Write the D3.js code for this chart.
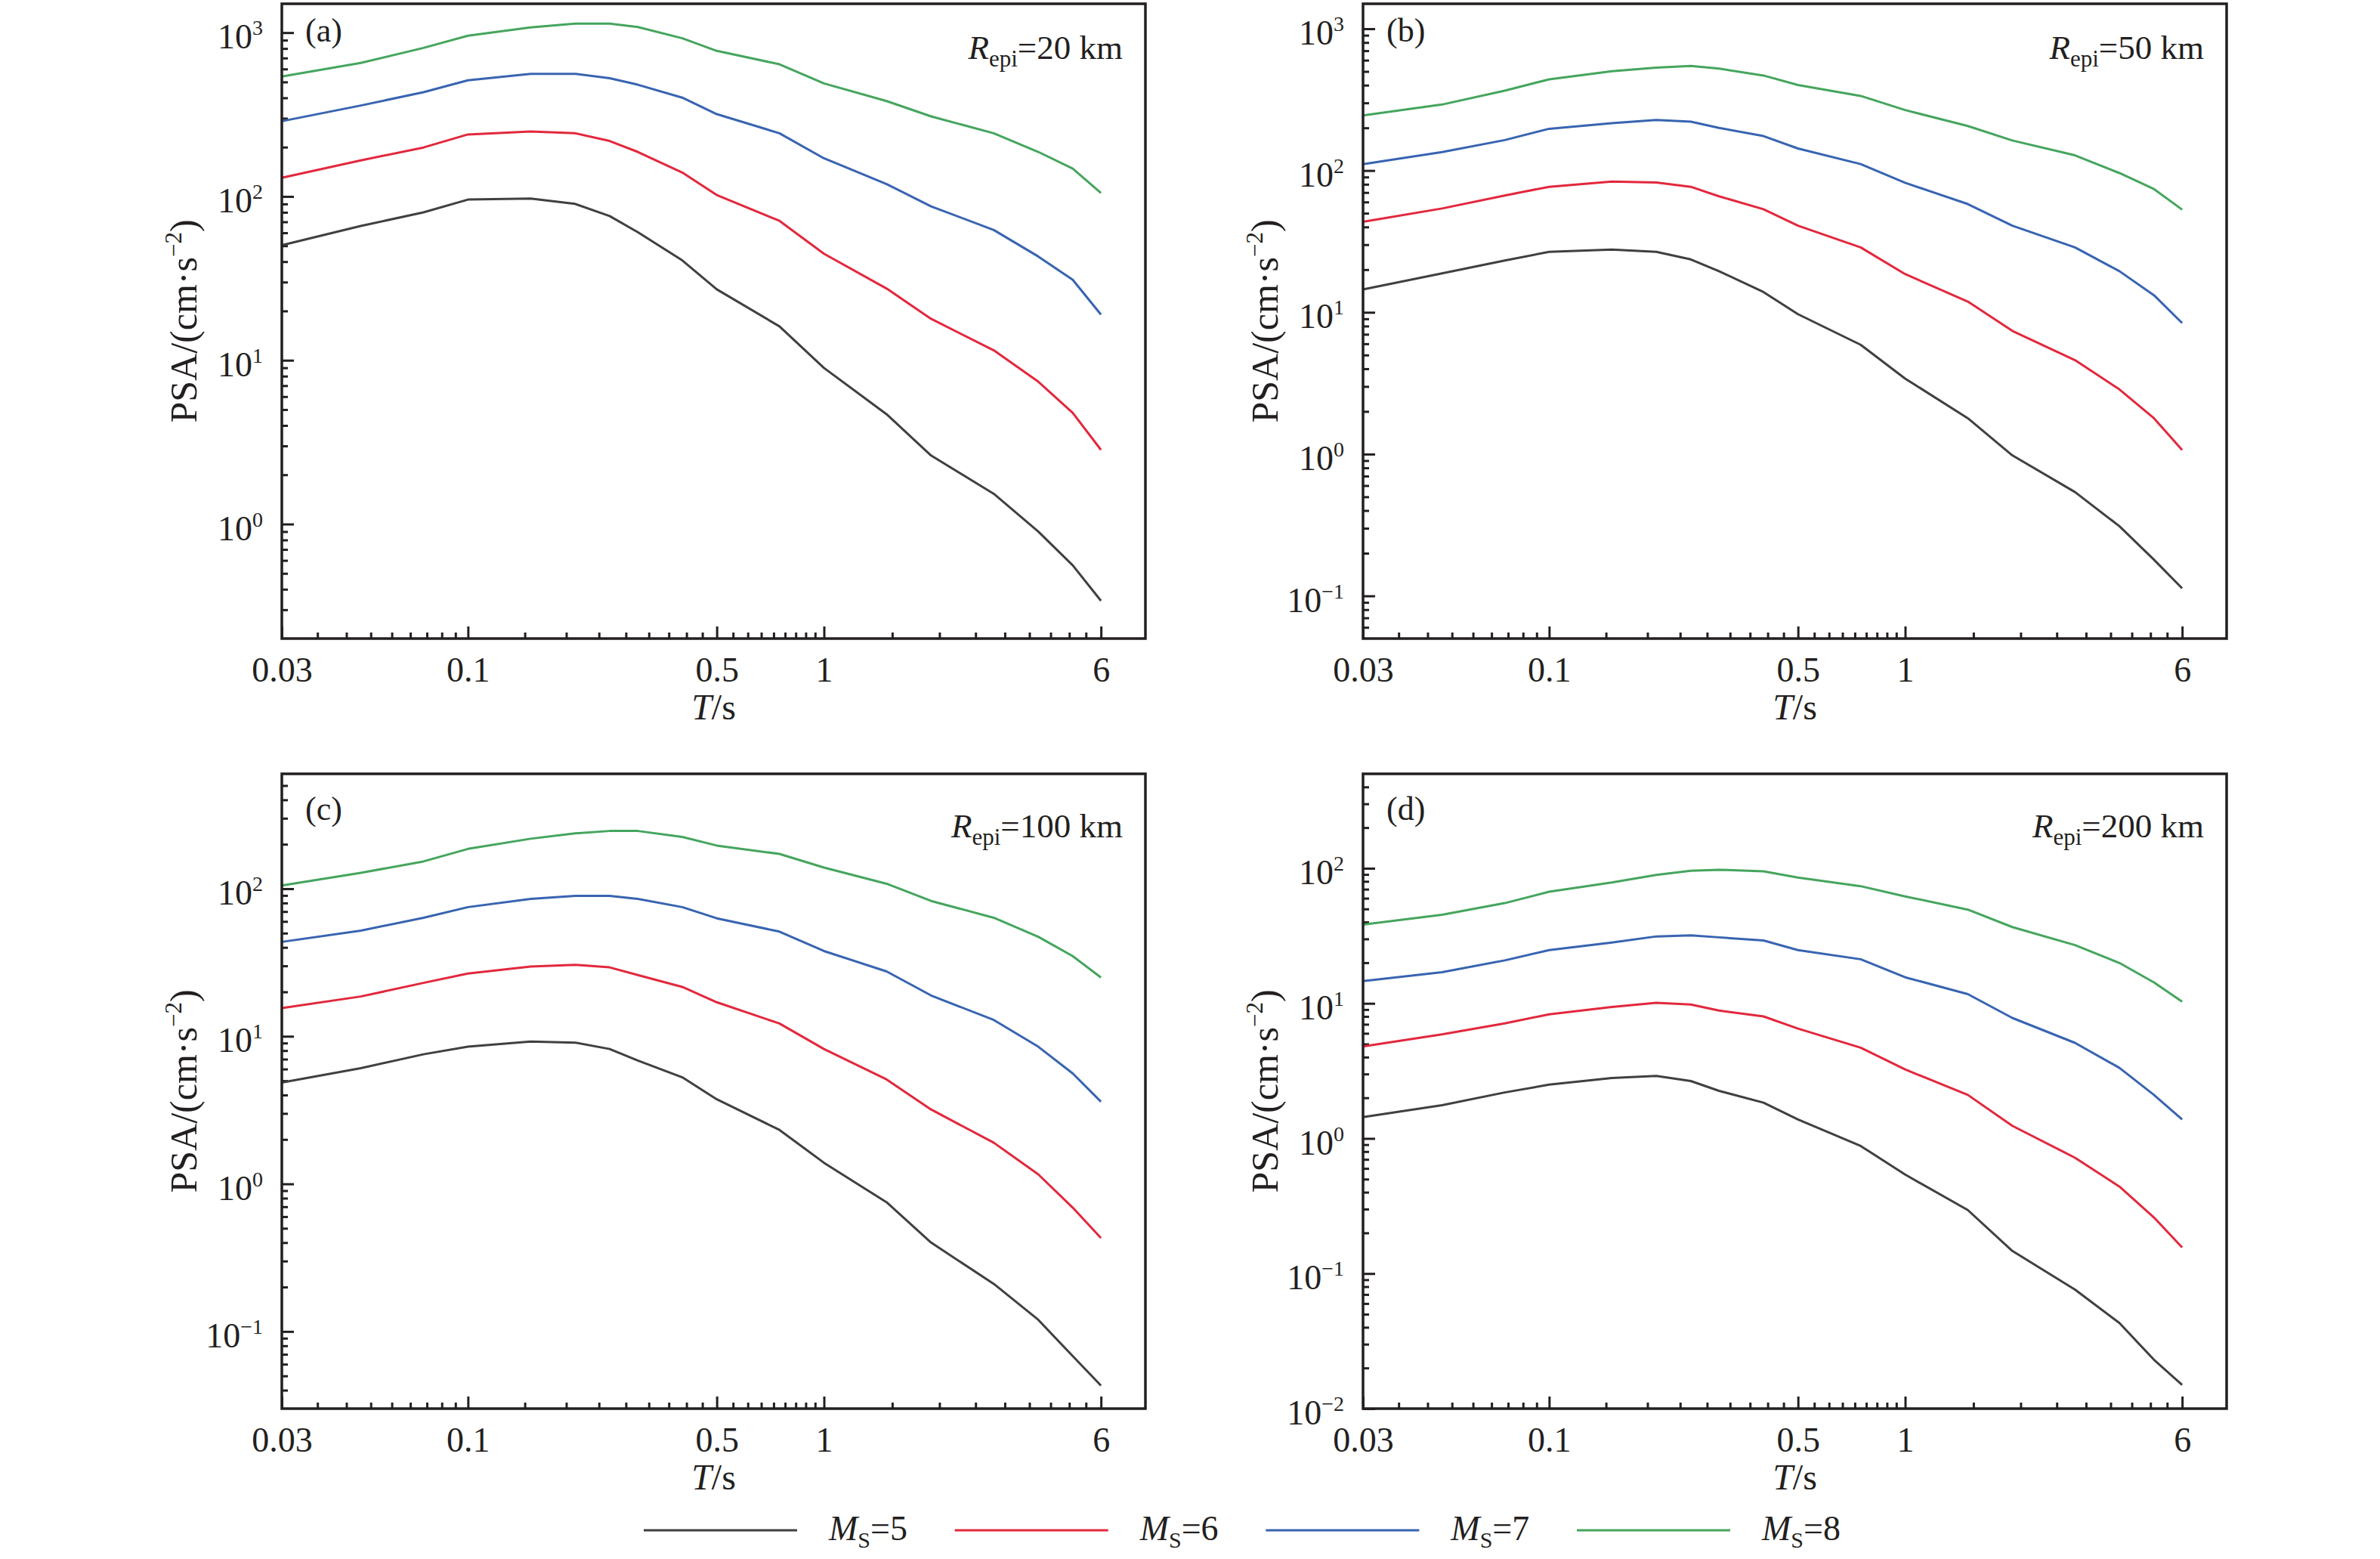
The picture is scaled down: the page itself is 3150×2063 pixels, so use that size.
<!DOCTYPE html>
<meta charset="utf-8">
<script src="https://d3js.org/d3.v7.min.js"></script>
<style>
  body { margin: 0; background: #fff; }
  svg text { font-family: "Times New Roman", "Liberation Serif", serif !important; fill: #231f20; }
</style>

<div id="my_dataviz"></div>
<script>

  // periods (s) shared by every curve
  var periods = [0.03, 0.05, 0.075, 0.1, 0.15, 0.2, 0.25, 0.3, 0.4, 0.5, 0.75, 1, 1.5, 2, 3, 4, 5, 6];

  var magnitudes = [5, 6, 7, 8];
  var distances = [20, 50, 100, 200];
  var panelNames = ["(a)", "(b)", "(c)", "(d)"];
  var xTickValues = [0.03, 0.1, 0.5, 1, 6];
  var xTickLabels = ["0.03", "0.1", "0.5", "1", "6"];
  var yRanges = [[0.2, 1500], [0.05, 1500], [0.03, 600], [0.01, 500]];
  var lineColors = ["#404040", "#e2283d", "#3864b1", "#45a55e"];

  // PSA (cm/s^2), Repi = 20 km
  var psa20_m5 = [50.4, 66, 80, 95.7, 97, 90, 75.9, 60.5, 40.7, 27.1, 16.1, 8.98, 4.68, 2.62, 1.53, 0.9, 0.56, 0.34];
  var psa20_m6 = [130, 166, 199, 239, 249, 243, 218, 187, 140, 102, 71, 44.7, 27.4, 17.9, 11.5, 7.4, 4.77, 2.84];
  var psa20_m7 = [288, 359, 433, 512, 560, 560, 527, 481, 401, 318, 243, 171, 119, 87, 62.4, 43, 31, 19];
  var psa20_m8 = [540, 653, 807, 958, 1076, 1136, 1136, 1082, 924, 774, 641, 490, 382, 308, 243, 187, 148, 105];

  // Repi = 50 km
  var psa50_m5 = [14.5, 18.8, 23.2, 26.7, 27.7, 26.7, 23.6, 19.5, 13.9, 9.7, 5.9, 3.41, 1.79, 0.98, 0.54, 0.31, 0.18, 0.113];
  var psa50_m6 = [43.5, 54, 66.7, 76.8, 83.5, 82.4, 76.8, 65.8, 53.3, 40.8, 28.7, 18.6, 11.9, 7.4, 4.6, 2.86, 1.79, 1.07];
  var psa50_m7 = [111, 135, 164, 197, 216, 227, 221, 200, 175, 143, 111, 82, 58, 40.8, 28.7, 19.5, 13.2, 8.4];
  var psa50_m8 = [245, 292, 366, 440, 502, 531, 546, 523, 468, 401, 336, 267, 206, 163, 128, 96, 74, 53];

  // Repi = 100 km
  var psa100_m5 = [4.86, 6.08, 7.55, 8.5, 9.2, 9.06, 8.2, 6.85, 5.27, 3.74, 2.32, 1.39, 0.75, 0.4, 0.21, 0.12, 0.068, 0.043];
  var psa100_m6 = [15.5, 18.6, 23, 26.6, 29.7, 30.5, 29.3, 26, 21.6, 17, 12.2, 8.2, 5.1, 3.19, 1.9, 1.16, 0.69, 0.43];
  var psa100_m7 = [43.6, 52, 63.5, 75, 85.3, 89.5, 89.5, 85.3, 75, 63, 51.2, 37.8, 27.5, 18.9, 12.9, 8.5, 5.6, 3.6];
  var psa100_m8 = [105, 128, 153, 186, 218, 237, 246, 246, 224, 196, 172, 139, 108, 82.6, 63.5, 47.2, 34.9, 25];

  // Repi = 200 km
  var psa200_m5 = [1.44, 1.76, 2.19, 2.5, 2.8, 2.9, 2.66, 2.25, 1.84, 1.38, 0.88, 0.54, 0.295, 0.147, 0.076, 0.043, 0.023, 0.015];
  var psa200_m6 = [4.8, 5.9, 7.1, 8.3, 9.4, 10.1, 9.8, 8.85, 8.0, 6.5, 4.7, 3.24, 2.1, 1.24, 0.72, 0.44, 0.26, 0.156];
  var psa200_m7 = [14.6, 17, 20.8, 24.8, 28.2, 31.3, 31.9, 30.8, 29.2, 24.8, 21.2, 15.6, 11.7, 7.8, 5.1, 3.33, 2.1, 1.38];
  var psa200_m8 = [38.3, 45.2, 55.2, 67, 78.4, 89.3, 95.7, 97.5, 94.9, 85.4, 73.7, 61.9, 49.4, 36.7, 27, 19.9, 14.3, 10.3];

  var panelSeries = [
    [psa20_m5, psa20_m6, psa20_m7, psa20_m8],
    [psa50_m5, psa50_m6, psa50_m7, psa50_m8],
    [psa100_m5, psa100_m6, psa100_m7, psa100_m8],
    [psa200_m5, psa200_m6, psa200_m7, psa200_m8]
  ];

  // layout
  var width = 3150, height = 2063;
  var panelW = 1143, panelH = 840;
  var lefts = [373, 1804], tops = [5, 1024];
  var labelDy = [50, 61], repiDy = [73, 84];
  var ink = "#231f20";

  var svg = d3.select("#my_dataviz")
    .append("svg")
    .attr("width", width)
    .attr("height", height);

  var x = d3.scaleLog().domain([0.03, 8]).range([0, panelW]);

  // Origin-style minor ticks: 8 evenly spaced ones between labelled ticks
  var xMinor = [];
  for (var k = 0; k < xTickValues.length - 1; k++) {
    var a = xTickValues[k], b = xTickValues[k + 1];
    for (var j = 1; j < 9; j++) xMinor.push(a + (b - a) * j / 9);
  }

  function supText(e) { return e < 0 ? "\u2212" + (-e) : String(e); }

  // strip d3's default axis font and domain line
  function cleanAxis(s) {
    s.attr("font-family", null).attr("font-size", null);
    s.select(".domain").remove();
  }

  panelSeries.forEach(function (series, i) {
    var col = i % 2, row = Math.floor(i / 2);
    var g = svg.append("g")
      .attr("transform", "translate(" + lefts[col] + "," + tops[row] + ")");

    var y = d3.scaleLog().domain(yRanges[i]).range([panelH, 0]);

    // decades and their 2..9 subdivisions
    var lo = Math.floor(Math.log10(yRanges[i][0])), hi = Math.ceil(Math.log10(yRanges[i][1]));
    var yMajor = [], yMinor = [];
    for (var e = lo; e <= hi; e++) {
      var p = Math.pow(10, e);
      if (p >= yRanges[i][0] && p <= yRanges[i][1]) yMajor.push(e);
      for (var m = 2; m < 10; m++) {
        var v = m * p;
        if (v > yRanges[i][0] && v < yRanges[i][1]) yMinor.push(v);
      }
    }

    // x axis
    g.append("g")
      .attr("transform", "translate(0," + panelH + ")")
      .call(d3.axisBottom(x).tickValues(xMinor).tickSizeInner(-8).tickSizeOuter(0).tickFormat(""))
      .call(cleanAxis);
    var xa = g.append("g")
      .attr("transform", "translate(0," + panelH + ")")
      .call(d3.axisBottom(x).tickValues(xTickValues).tickSizeInner(-16).tickSizeOuter(0)
        .tickPadding(24)
        .tickFormat(function (d, idx) { return xTickLabels[idx]; }))
      .call(cleanAxis);
    xa.selectAll("text").attr("font-size", 46).attr("fill", ink);

    // y axis
    g.append("g")
      .call(d3.axisLeft(y).tickValues(yMinor).tickSizeInner(-8).tickSizeOuter(0).tickFormat(""))
      .call(cleanAxis);
    var ya = g.append("g")
      .call(d3.axisLeft(y).tickValues(yMajor.map(function (e) { return Math.pow(10, e); }))
        .tickSizeInner(-16).tickSizeOuter(0).tickPadding(25).tickFormat(""))
      .call(cleanAxis);
    ya.selectAll(".tick text")
      .attr("font-size", 46).attr("fill", ink)
      .attr("dy", "0.45em")
      .each(function (d, idx) {
        var t = d3.select(this);
        t.append("tspan").text("10");
        t.append("tspan").attr("font-size", 28).attr("dy", -18).text(supText(yMajor[idx]));
      });

    g.selectAll(".tick line").attr("stroke", ink).attr("stroke-width", 3);

    // curves
    var line = d3.line()
      .x(function (d) { return x(d[0]); })
      .y(function (d) { return y(d[1]); });
    series.forEach(function (vals, s) {
      g.append("path")
        .datum(periods.map(function (t, n) { return [t, vals[n]]; }))
        .attr("fill", "none")
        .attr("stroke", lineColors[s])
        .attr("stroke-width", 3)
        .attr("stroke-linejoin", "round")
        .attr("d", line);
    });

    // frame
    g.append("rect")
      .attr("width", panelW).attr("height", panelH)
      .attr("fill", "none").attr("stroke", ink).attr("stroke-width", 3.5);

    // panel letter
    g.append("text")
      .attr("x", 31).attr("y", labelDy[row])
      .attr("font-size", 44)
      .text(panelNames[i]);

    // epicentral distance
    var r = g.append("text")
      .attr("x", panelW - 30).attr("y", repiDy[row])
      .attr("text-anchor", "end")
      .attr("font-size", 45);
    r.append("tspan").attr("font-style", "italic").text("R");
    r.append("tspan").attr("font-size", 31).attr("dy", 10).text("epi");
    r.append("tspan").attr("dy", -10).text("=" + distances[i] + " km");

    // y title
    var yt = g.append("text")
      .attr("transform", "translate(-113," + (panelH / 2) + ") rotate(-90)")
      .attr("text-anchor", "middle")
      .attr("font-size", 50);
    yt.append("tspan").text("PSA/(cm\u00b7s");
    yt.append("tspan").attr("font-size", 31).attr("dy", -20).text("\u22122");
    yt.append("tspan").attr("dy", 20).text(")");

    // x title
    var xt = g.append("text")
      .attr("x", panelW / 2).attr("y", panelH + 107)
      .attr("text-anchor", "middle")
      .attr("font-size", 48);
    xt.append("tspan").attr("font-style", "italic").text("T");
    xt.append("tspan").text("/s");
  });

  // legend
  var legX = d3.scaleLinear().domain([0, magnitudes.length - 1]).range([852, 2087]);
  var legY = 2025;
  magnitudes.forEach(function (mag, i) {
    svg.append("line")
      .attr("x1", legX(i)).attr("x2", legX(i) + 203)
      .attr("y1", legY).attr("y2", legY)
      .attr("stroke", lineColors[i]).attr("stroke-width", 3);
    var t = svg.append("text")
      .attr("x", legX(i) + 245).attr("y", legY + 13)
      .attr("font-size", 46);
    t.append("tspan").attr("font-style", "italic").text("M");
    t.append("tspan").attr("font-size", 30).attr("dy", 10).text("S");
    t.append("tspan").attr("dy", -10).text("=" + mag);
  });

</script>
